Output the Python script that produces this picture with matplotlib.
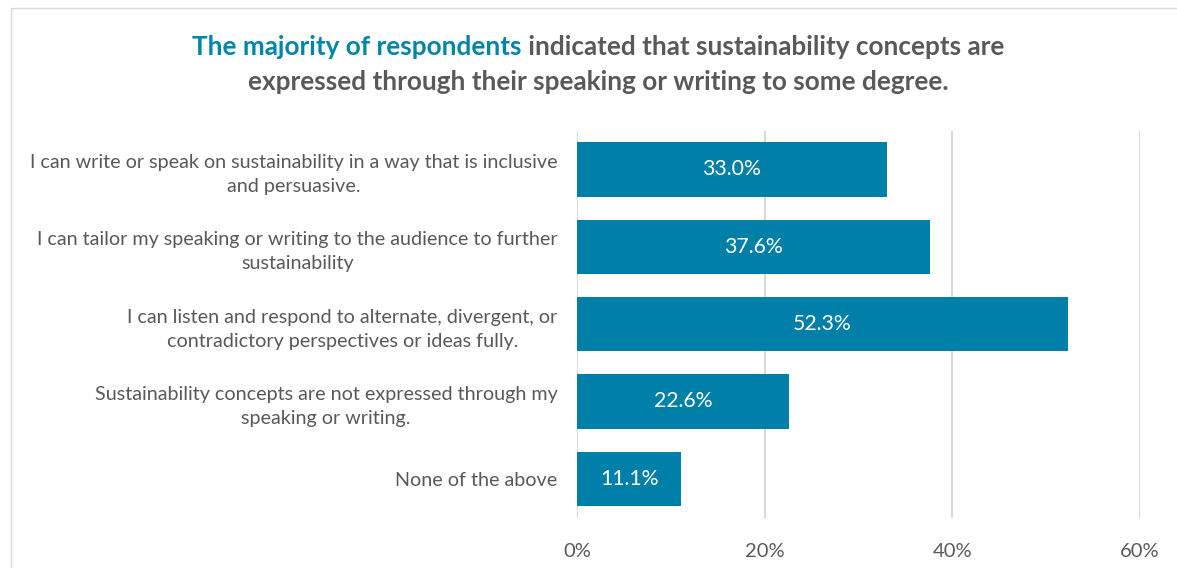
import matplotlib
matplotlib.use("Agg")
import matplotlib.pyplot as plt
from matplotlib.patches import Rectangle

# data
labels = [
    "I can write or speak on sustainability in a way that is inclusive\nand persuasive.",
    "I can tailor my speaking or writing to the audience to further\nsustainability",
    "I can listen and respond to alternate, divergent, or\ncontradictory perspectives or ideas fully.",
    "Sustainability concepts are not expressed through my\nspeaking or writing.",
    "None of the above",
]
values = [33.0, 37.6, 52.3, 22.6, 11.1]
xticks = [0, 20, 40, 60]

title_hl = "The majority of respondents"
title_rest1 = " indicated that sustainability concepts are"
title_line2 = "expressed through their speaking or writing to some degree."

BAR = "#0080A8"
BLUE = "#0085AA"
GRAY = "#595959"
GRID = "#D9D9D9"

plt.rcParams['font.family'] = ['Lato', 'DejaVu Sans']

fig = plt.figure(figsize=(11.77, 5.68), dpi=100)
ax = fig.add_axes([0.4902, 0.0889, 0.4783, 0.6808])

ypos = list(range(len(labels)))
ax.barh(ypos, values, height=0.705, color=BAR, zorder=3)
for y, v in zip(ypos, values):
    ax.text(v / 2, y, f"{v:.1f}%", ha="center", va="center", color="white",
            fontsize=15.3, zorder=4)

ax.set_xlim(0, 60)
ax.set_ylim(len(labels) - 0.5, -0.5)
ax.set_xticks(xticks)
ax.set_xticklabels([f"{t}%" for t in xticks])
ax.set_yticks(ypos)
ax.set_yticklabels(labels)
for lab in ax.get_yticklabels():
    lab.set_multialignment("center")
    lab.set_linespacing(1.5)
ax.tick_params(axis="both", length=0, colors=GRAY)
ax.tick_params(axis="x", pad=18, labelsize=14.5)
ax.tick_params(axis="y", pad=14, labelsize=14.2)
ax.grid(axis="x", color=GRID, lw=1.5, zorder=0)
for s in ax.spines.values():
    s.set_visible(False)

# outer frame
fig.add_artist(Rectangle((11 / 1177, -0.1), 1.2, 1.1 - 8 / 568, transform=fig.transFigure,
                         fill=False, edgecolor=GRID, lw=1))

# two-colour title
fs = 18.8
t1 = fig.text(0, 1 - 47 / 568, title_hl, color=BLUE, fontsize=fs, fontweight="bold",
              ha="left", va="center")
t2 = fig.text(0, 1 - 47 / 568, title_rest1, color=GRAY, fontsize=fs, fontweight="bold",
              ha="left", va="center")
fig.text(598 / 1177, 1 - 82 / 568, title_line2, color=GRAY, fontsize=fs, fontweight="bold",
         ha="center", va="center")
r = fig.canvas.get_renderer()
w1 = t1.get_window_extent(r).width
w2 = t2.get_window_extent(r).width
x0 = 598 - (w1 + w2) / 2
t1.set_x(x0 / 1177)
t2.set_x((x0 + w1) / 1177)

fig.savefig("out.png", dpi=100)
